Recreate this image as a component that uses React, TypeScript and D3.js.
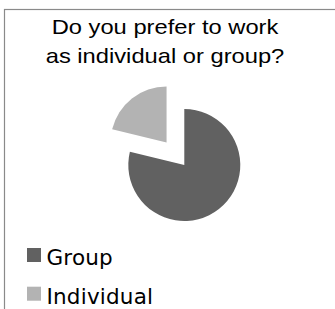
import React, { useEffect, useRef } from 'react';
import * as d3 from 'd3';

const titleLines = ['Do you prefer to work', 'as individual or group?'];
const categories = ['Group', 'Individual'];
const values = [26, 7];
const colors = ['#616161', '#b3b3b3'];
const exploded = [false, true];

const App: React.FC = () => {
  const svgRef = useRef<SVGSVGElement | null>(null);
  const width = 335;
  const height = 309;

  useEffect(() => {
    if (!svgRef.current) return;
    const svg = d3.select(svgRef.current);
    svg.selectAll('*').remove();

    svg.append('rect')
      .attr('width', width)
      .attr('height', height)
      .attr('fill', '#fff');

    // chart frame (runs off the right and bottom of the picture)
    svg.append('rect')
      .attr('x', 4.5)
      .attr('y', 9.5)
      .attr('width', 400)
      .attr('height', 400)
      .attr('fill', 'none')
      .attr('stroke', '#8a8a8a')
      .attr('stroke-width', 1.2);

    // title
    titleLines.forEach((line, i) => {
      svg.append('text')
        .attr('transform', `translate(165,${34 + i * 28.7}) scale(1.13,1)`)
        .attr('text-anchor', 'middle')
        .style('font-family', '"Liberation Sans", Arial, sans-serif')
        .style('font-size', '21px')
        .attr('fill', '#000')
        .text(line);
    });

    // pie
    const cx = 184.3;
    const cy = 165;
    const radius = 56;
    const explode = 28.7;

    const pie = d3.pie<number>().sort(null).value(d => d);
    const arcs = pie(values);
    const arc = d3.arc<d3.PieArcDatum<number>>().innerRadius(0).outerRadius(radius);

    const g = svg.append('g').attr('transform', `translate(${cx},${cy})`);
    g.selectAll('path')
      .data(arcs)
      .enter()
      .append('path')
      .attr('d', arc)
      .attr('fill', (_, i) => colors[i])
      .attr('transform', (d, i) => {
        if (!exploded[i]) return null;
        const mid = (d.startAngle + d.endAngle) / 2;
        return `translate(${Math.sin(mid) * explode},${-Math.cos(mid) * explode})`;
      });

    // legend
    const legend = svg.append('g');
    categories.forEach((c, i) => {
      const y = 248 + i * 38.7;
      legend.append('rect')
        .attr('x', 27)
        .attr('y', y)
        .attr('width', 14)
        .attr('height', 14)
        .attr('fill', colors[i]);
      legend.append('text')
        .attr('x', 46.5)
        .attr('y', y + 17)
        .style('font-family', '"DejaVu Sans", Verdana, sans-serif')
        .style('font-size', '21.5px')
        .style('letter-spacing', '0.2px')
        .attr('fill', '#000')
        .text(c);
    });
  }, []);

  return (
    <svg
      ref={svgRef}
      width={width}
      height={height}
      style={{ position: 'absolute', left: 0, top: 0, display: 'block' }}
    />
  );
};

export default App;
